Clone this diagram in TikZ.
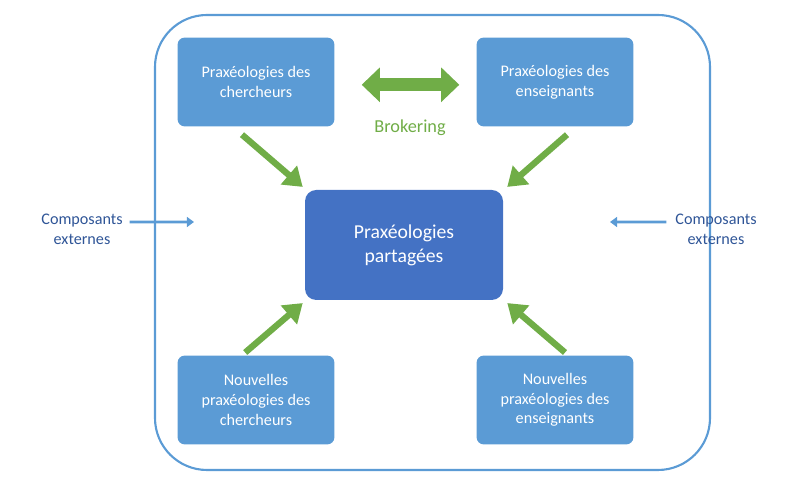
\documentclass[tikz,border=0pt]{standalone}
\usepackage{fontspec}
\setmainfont{Carlito}
\usetikzlibrary{arrows.meta}

\definecolor{boxblue}{HTML}{5B9BD5}
\definecolor{darkblue}{HTML}{4472C4}
\definecolor{arrowgreen}{HTML}{70AD47}
\definecolor{textblue}{HTML}{2F5597}

\tikzset{
  praxbox/.style={draw=none, fill=boxblue, rounded corners=5pt, text=white,
    minimum width=3.92cm, minimum height=2.22cm, align=center, font=\fontsize{11.5}{14}\selectfont},
  greenarrow/.style={arrowgreen, line width=4.5pt, -{Triangle[length=13pt,width=17pt]}},
  sidearrow/.style={boxblue, line width=2pt, -{Triangle[length=5pt,width=7pt]}}
}

\begin{document}
\begin{tikzpicture}
\useasboundingbox (0,0) rectangle (20,12.075);
% outer frame
\draw[boxblue, line width=1.5pt, rounded corners=1.3cm] (3.875,0.325) rectangle (17.75,11.7);

% the boxes
\node[praxbox] (tl) at (6.4,10.025) {Praxéologies des\\chercheurs};
\node[praxbox] (tr) at (13.875,10.025) {Praxéologies des\\enseignants};
\node[praxbox] (bl) at (6.4,2.075) {Nouvelles\\praxéologies des\\chercheurs};
\node[praxbox] (br) at (13.875,2.075) {Nouvelles\\praxéologies des\\enseignants};
\node[praxbox, fill=darkblue, minimum width=4.95cm, minimum height=2.75cm,
  rounded corners=8pt, font=\fontsize{14}{17}\selectfont] (c) at (10.1,5.95) {Praxéologies\\partagées};

% brokering
\draw[arrowgreen, line width=9pt, {Triangle[length=13pt,width=24pt]}-{Triangle[length=13pt,width=24pt]}]
  ([xshift=0.675cm,yshift=-0.07cm]tl.east) -- ([xshift=-0.425cm,yshift=-0.07cm]tr.west);
\node[text=arrowgreen, font=\fontsize{13}{15}\selectfont] (brk) at (10.25,8.875) {Brokering};

% arrows to the shared praxeologies
\draw[greenarrow] ([xshift=-0.35cm,yshift=-0.2cm]tl.south) -- ([xshift=-0.05cm,yshift=0.07cm]c.north west);
\draw[greenarrow] ([xshift=0.3cm,yshift=-0.2cm]tr.south) -- ([xshift=0.1cm,yshift=0.07cm]c.north east);
\draw[greenarrow] ([xshift=-0.27cm,yshift=0.07cm]bl.north) -- ([xshift=-0.05cm,yshift=-0.07cm]c.south west);
\draw[greenarrow] ([xshift=0.25cm,yshift=0.07cm]br.north) -- ([xshift=0.1cm,yshift=-0.07cm]c.south east);

% external components
\node[text=textblue, align=center, font=\fontsize{11.5}{14}\selectfont] (extl) at (2.05,6.35) {Composants\\externes};
\node[text=textblue, align=center, font=\fontsize{11.5}{14}\selectfont] (extr) at (17.9,6.35) {Composants\\externes};
\coordinate (inl) at (4.85,6.525);
\coordinate (inr) at (15.25,6.525);
\draw[sidearrow] ([xshift=0.05cm,yshift=0.175cm]extl.east) -- (inl);
\draw[sidearrow] ([xshift=-0.1cm,yshift=0.175cm]extr.west) -- (inr);
\end{tikzpicture}
\end{document}
